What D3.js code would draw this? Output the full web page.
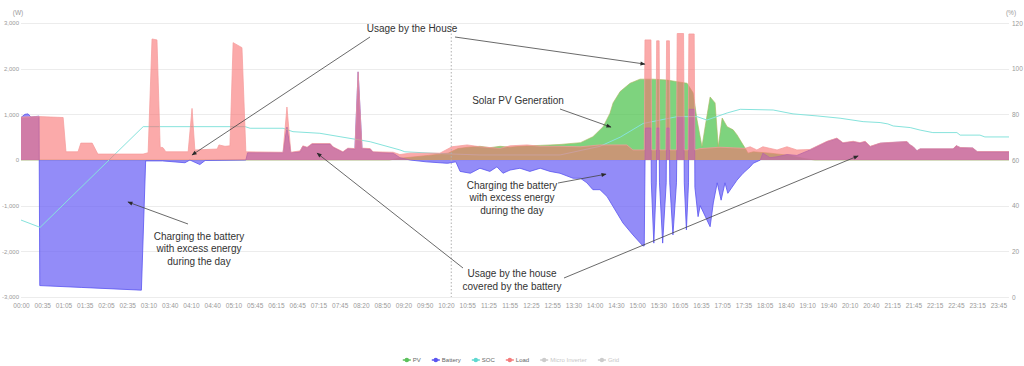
<!DOCTYPE html>
<html>
<head>
<meta charset="utf-8">
<script src="https://cdn.jsdelivr.net/npm/d3@7"></script>
<style>
  html, body { margin: 0; padding: 0; background: #fff; }
  svg { display: block; font-family: "Liberation Sans", Arial, sans-serif; }
</style>
</head>
<body>
<div class="container"></div>
<script>
const WIDTH = 1024;
const HEIGHT = 366;
const MARGIN = { top: 23, right: 15, bottom: 69, left: 21 };

// category axis: 5 minute slots (a few missing), a label on every 6th slot
const timeLabels = [
  "00:00", "00:35", "01:05", "01:35", "02:05", "02:35", "03:10", "03:40",
  "04:10", "04:40", "05:10", "05:45", "06:15", "06:45", "07:15", "07:45",
  "08:20", "08:50", "09:20", "09:50", "10:20", "10:55", "11:25", "11:55",
  "12:25", "12:55", "13:30", "14:00", "14:30", "15:00", "15:30", "16:05",
  "16:35", "17:05", "17:35", "18:05", "18:40", "19:10", "19:40", "20:10",
  "20:40", "21:15", "21:45", "22:15", "22:45", "23:15", "23:45",
];
const LABEL_STEP = 6;
const LAST_SLOT = 279;

const powerTicks = [-3000, -2000, -1000, 0, 1000, 2000, 3000];
const socTicks = [0, 20, 40, 60, 80, 100, 120];

// [slot, W]
const pvSeries = [
  [0, 0], [104, 0], [107, 40], [110, 60], [115, 100], [120.6, 150], [123.4, 250],
  [126.3, 280], [129.6, 300], [132.4, 270], [135.3, 300], [138.1, 280], [140.9, 300],
  [146.6, 320], [152.2, 340], [158, 380], [161.5, 510], [164.4, 730], [166.3, 1020],
  [167.2, 1250], [169.2, 1500], [172, 1680], [174.8, 1770], [178.5, 1770],
  [182.5, 1750], [185.3, 1715], [188.1, 1680], [189.8, 1470], [190.9, 880],
  [192.3, 290], [193.2, 730], [194.6, 1380], [196, 1250], [196.9, 290], [198, 920],
  [199.4, 730], [201.1, 660], [202.2, 550], [203.6, 370], [204.5, 260], [205.3, 150],
  [206.8, 180], [211.5, 150], [217.1, 100], [221.4, 30], [224.2, 0], [279, 0],
];

const batterySeries = [
  [0, 930], [1.1, 1000], [2, 1010], [2.8, 940], [4, 950], [5.1, 960], [5.3, -2750],
  [17, -2790], [34, -2850], [35.2, -20], [40, -20], [46.3, -60], [47.7, 0],
  [50.5, -100], [52, -10], [63.5, 0], [64, 160], [74, 160], [75.1, 720], [76.2, 160],
  [78.8, 180], [79.6, 300], [80.8, 270], [82.2, 350], [87.3, 350], [88.1, 280],
  [90.9, 170], [92.3, 250], [94.3, 240], [95.2, 1930], [96.3, 250], [98.6, 240],
  [99.4, 170], [105.1, 150], [107, 50], [109.9, 0], [114.4, -40], [120, -70],
  [120.6, -70], [122.8, -40], [124, -250], [126.9, -290], [129.6, -180], [132.4, -250],
  [134.4, -150], [136.1, -290], [138.1, -220], [140.9, -180], [143.7, -250],
  [146.6, -180], [149.4, -250], [152.2, -290], [155.9, -400], [158, -400],
  [159.8, -500], [161.5, -650], [163.5, -650], [165.5, -800], [167.2, -1020],
  [170, -1380], [172.8, -1640], [175.6, -1880], [176, -1880], [176.3, 700],
  [177.9, 700], [178, -500], [178.7, -1820], [179.4, -500], [179.5, 700],
  [180.2, 700], [180.3, -500], [181.2, -1820], [182.2, -500], [182.3, 700],
  [183.1, 700], [183.2, -500], [184.1, -1640], [185.1, -500], [185.3, 950],
  [187.2, 950], [187.3, -500], [187.9, -1530], [188.5, -500], [188.6, 1110],
  [190.2, 1110], [190.3, -600], [191.2, -1240], [191.8, -1000], [194.6, -1460],
  [195.5, -940], [196.6, -500], [197.7, -880], [198.8, -500], [199.6, -730],
  [202.2, -440], [203.9, -290], [205.9, -150], [206.8, -70], [208.8, 0], [209.5, 150],
  [211.5, 50], [213.5, 70], [216.3, 120], [219.1, 100], [222.8, 220], [227.6, 400],
  [230.4, 470], [232.1, 370], [235, 400], [236.9, 370], [238.4, 400], [239.8, 290],
  [242.6, 365], [245.4, 380], [250.2, 400], [251, 330], [251.9, 290], [253, 200],
  [253.9, 240], [263.2, 240], [264.1, 310], [265.2, 270], [268.8, 260], [270, 180],
  [279, 180],
];

const loadSeries = [
  [0, 940], [5.1, 950], [11.9, 930], [12.7, 180], [16.1, 180], [16.9, 370], [20.1, 370],
  [21.7, 130], [34.5, 130], [35.9, 160], [37, 2650], [38.4, 2630], [39.3, 280],
  [40.1, 270], [40.9, 180], [47.2, 180], [48.3, 1130], [49.1, 220], [55.4, 240],
  [55.9, 330], [57.6, 300], [59, 310], [59.9, 2570], [62.4, 2460], [63.5, 180],
  [74, 170], [75.1, 1160], [76.2, 170], [78.8, 200], [79.6, 310], [80.8, 280],
  [82.2, 360], [87.3, 360], [88.1, 290], [90.9, 180], [92.3, 260], [94.3, 250],
  [95.2, 1930], [96.3, 260], [98.6, 250], [99.4, 180], [105.1, 170], [107, 120],
  [109.9, 150], [118.3, 150], [121.7, 290], [126, 330], [129.6, 290], [135.3, 255],
  [138.1, 310], [142.9, 330], [146.6, 300], [152.2, 300], [158, 290], [163.5, 330],
  [171.1, 330], [172.8, 220], [176, 220], [176.2, 2630], [177.9, 2630], [178.1, 220],
  [179.3, 220], [179.5, 2610], [180.2, 2610], [180.4, 220], [182.1, 220], [182.3, 2610],
  [183.1, 2610], [183.3, 220], [185.1, 220], [185.3, 2770], [187.1, 2770], [187.3, 220],
  [188.4, 220], [188.6, 2760], [190.1, 2760], [190.3, 220], [191.8, 250], [197.4, 280],
  [204.5, 255], [205.9, 290], [207.8, 220], [209.5, 290], [213.5, 220], [216.3, 290],
  [219.1, 220], [222.8, 230], [227.6, 410], [230.4, 480], [232.1, 380], [235, 410],
  [236.9, 380], [238.4, 410], [239.8, 300], [242.6, 370], [245.4, 385], [250.2, 405],
  [251, 335], [251.9, 295], [253, 205], [253.9, 245], [263.2, 245], [264.1, 315],
  [265.2, 275], [268.8, 265], [270, 185], [279, 185],
];

// [slot, %]
const socSeries = [
  [0, 33.7], [5.4, 30.5], [34.5, 74.6], [63.3, 74.6], [64.7, 73.9], [74, 73.9],
  [76.8, 72.4], [84.4, 71.7], [90.1, 70.2], [98.6, 68], [107, 64.4], [108.4, 63.6],
  [118.3, 62.8], [129.6, 62.2], [152.2, 62.2], [163.5, 66], [169.2, 70], [175.7, 76],
  [180.5, 77.5], [185.3, 79], [190.9, 79], [193.7, 77.5], [199.4, 80.6], [203.1, 82.2],
  [212.4, 81.9], [218, 80.2], [224.8, 79.3], [231.3, 78.3], [237.8, 76.8],
  [242.6, 76.4], [244.8, 75.8], [246.3, 74.9], [251.1, 74.2], [253.9, 73.1],
  [257.5, 72], [264.3, 72], [265.2, 70.9], [270.8, 70.9], [272.2, 70.1], [279, 70.1],
];

// hovered slot (dotted pointer line)
const pointerSlot = 121.5;

const legendItems = [
  { name: "PV", color: "#5cc15c", active: true },
  { name: "Battery", color: "#5a55f0", active: true },
  { name: "SOC", color: "#5fd8d0", active: true },
  { name: "Load", color: "#f47c7c", active: true },
  { name: "Micro Inverter", color: "#cccccc", active: false },
  { name: "Grid", color: "#cccccc", active: false },
];

// scales
const x = d3
  .scaleLinear()
  .domain([0, LAST_SLOT])
  .range([MARGIN.left, WIDTH - MARGIN.right]);
const yPower = d3
  .scaleLinear()
  .domain([-3000, 3000])
  .range([HEIGHT - MARGIN.bottom, MARGIN.top]);
const ySoc = d3
  .scaleLinear()
  .domain([0, 120])
  .range([HEIGHT - MARGIN.bottom, MARGIN.top]);

const fmt = d3
  .formatLocale({ decimal: ".", thousands: ",", grouping: [3], currency: ["", ""], minus: "-" })
  .format(",");

const svg = d3
  .select(".container")
  .append("svg")
  .attr("viewBox", [0, 0, WIDTH, HEIGHT])
  .attr("width", WIDTH)
  .attr("height", HEIGHT);

// grid
svg
  .append("g")
  .attr("stroke", "#ececec")
  .attr("stroke-width", 1)
  .selectAll("line")
  .data(powerTicks)
  .join("line")
  .attr("x1", MARGIN.left)
  .attr("x2", WIDTH - MARGIN.right)
  .attr("y1", (d) => Math.round(yPower(d)) + 0.5)
  .attr("y2", (d) => Math.round(yPower(d)) + 0.5);

// axes
const axisText = (size) => (g) =>
  g
    .call((g) => g.select(".domain").remove())
    .selectAll("text")
    .attr("fill", "#9a9a9a")
    .attr("font-size", size)
    .attr("font-family", "Liberation Sans, Arial, sans-serif");

svg
  .append("g")
  .attr("transform", `translate(${MARGIN.left},0)`)
  .call(d3.axisLeft(yPower).tickValues(powerTicks).tickFormat(fmt).tickSize(0).tickPadding(2))
  .call(axisText(6));

svg
  .append("g")
  .attr("transform", `translate(${WIDTH - MARGIN.right},0)`)
  .call(d3.axisRight(ySoc).tickValues(socTicks).tickSize(0).tickPadding(3))
  .call(axisText(6.5));

svg
  .append("g")
  .attr("transform", `translate(0,${HEIGHT - MARGIN.bottom})`)
  .call(
    d3
      .axisBottom(x)
      .tickValues(timeLabels.map((_, i) => i * LABEL_STEP))
      .tickFormat((d, i) => timeLabels[i])
      .tickSize(0)
      .tickPadding(6)
  )
  .call(axisText(6.5));

svg
  .append("g")
  .attr("fill", "#9a9a9a")
  .attr("font-size", 6.5)
  .attr("text-anchor", "middle")
  .selectAll("text")
  .data([
    ["(W)", 18],
    ["(%)", 1011],
  ])
  .join("text")
  .attr("x", (d) => d[1])
  .attr("y", 15)
  .text((d) => d[0]);

// series
const area = d3
  .area()
  .x((d) => x(d[0]))
  .y0(yPower(0))
  .y1((d) => yPower(d[1]));
const line = d3
  .line()
  .x((d) => x(d[0]))
  .y((d) => yPower(d[1]));
const socLine = d3
  .line()
  .x((d) => x(d[0]))
  .y((d) => ySoc(d[1]));

function drawArea(data, fill, opacity, stroke, strokeOpacity) {
  svg.append("path").datum(data).attr("d", area).attr("fill", fill).attr("fill-opacity", opacity);
  svg
    .append("path")
    .datum(data)
    .attr("d", line)
    .attr("fill", "none")
    .attr("stroke", stroke)
    .attr("stroke-opacity", strokeOpacity)
    .attr("stroke-width", 0.9)
    .attr("stroke-linejoin", "round");
}

drawArea(pvSeries, "#4cc24c", 0.72, "#a8b860", 0.7);
drawArea(batterySeries, "#6a60f5", 0.72, "#5a55f0", 0.9);

svg
  .append("path")
  .datum(socSeries)
  .attr("d", socLine)
  .attr("fill", "none")
  .attr("stroke", "#86e3dc")
  .attr("stroke-width", 1);

drawArea(loadSeries, "#f87171", 0.6, "#f59a9a", 0.8);

// dotted pointer line
svg
  .append("line")
  .attr("x1", x(pointerSlot))
  .attr("x2", x(pointerSlot))
  .attr("y1", MARGIN.top)
  .attr("y2", HEIGHT - MARGIN.bottom)
  .attr("stroke", "#b0b0b0")
  .attr("stroke-width", 1)
  .attr("stroke-dasharray", "1.5,2");

// annotations: text in pixels, arrow tips in data units [slot, W]
const notes = [
  { lines: ["Usage by the House"], x: 412, y: 31.5,
    arrows: [{ from: [370, 37], to: [48.3, 110] }, { from: [455, 37], to: [176.2, 2100] }] },
  { lines: ["Solar PV Generation"], x: 518, y: 103.5,
    arrows: [{ from: [560, 109], to: [166.6, 720] }] },
  { lines: ["Charging the battery", "with excess energy", "during the day"], x: 199, y: 239.5,
    arrows: [{ from: [188, 224], to: [30.2, -920] }] },
  { lines: ["Charging the battery", "with excess energy", "during the day"], x: 512, y: 188.5,
    arrows: [{ from: [558, 183], to: [165.2, -310] }] },
  { lines: ["Usage by the house", "covered by the battery"], x: 512, y: 277,
    arrows: [{ from: [463, 268], to: [83.6, 150] }, { from: [564, 278], to: [236.4, 90] }] },
];

svg
  .append("defs")
  .append("marker")
  .attr("id", "arrow")
  .attr("viewBox", "0 0 10 10")
  .attr("refX", 9)
  .attr("refY", 5)
  .attr("markerUnits", "userSpaceOnUse")
  .attr("markerWidth", 6)
  .attr("markerHeight", 5)
  .attr("orient", "auto")
  .append("path")
  .attr("d", "M0,1L10,5L0,9Z")
  .attr("fill", "#2a2a2a");

const noteG = svg.append("g").attr("class", "notes");
notes.forEach((n) => {
  n.arrows.forEach((a) => {
    noteG
      .append("line")
      .attr("x1", a.from[0])
      .attr("y1", a.from[1])
      .attr("x2", x(a.to[0]))
      .attr("y2", yPower(a.to[1]))
      .attr("stroke", "#444")
      .attr("stroke-width", 0.8)
      .attr("marker-end", "url(#arrow)");
  });
  noteG
    .append("text")
    .attr("text-anchor", "middle")
    .attr("font-size", 10)
    .attr("fill", "#333")
    .selectAll("tspan")
    .data(n.lines)
    .join("tspan")
    .attr("x", n.x)
    .attr("y", (d, i) => n.y + i * 12.5)
    .text((d) => d);
});

// legend
const legend = svg.append("g").attr("class", "legend");
let cursor = 0;
legendItems.forEach((item) => {
  const g = legend.append("g").attr("transform", `translate(${cursor},0)`);
  g.append("line")
    .attr("x1", 0)
    .attr("x2", 8)
    .attr("stroke", item.color)
    .attr("stroke-width", 1.5);
  g.append("circle").attr("cx", 4).attr("r", 2.2).attr("fill", item.color);
  const t = g
    .append("text")
    .attr("x", 10)
    .attr("dy", "0.35em")
    .attr("font-size", 6)
    .attr("fill", item.active ? "#666" : "#c8c8c8")
    .text(item.name);
  cursor += 10 + t.node().getComputedTextLength() + 11;
});
legend.attr("transform", `translate(${511 - (cursor - 11) / 2},360)`);
</script>
</body>
</html>
